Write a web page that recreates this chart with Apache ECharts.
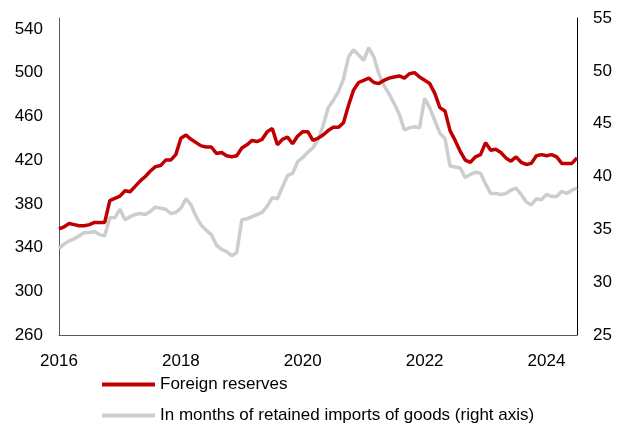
<!DOCTYPE html>
<html>
<head>
<meta charset="utf-8">
<script src="https://cdn.jsdelivr.net/npm/echarts@6/dist/echarts.min.js"></script>
<style>
html,body{margin:0;padding:0;background:#fff;}
#chart{width:624px;height:435px;}
</style>
</head>
<body>
<div id="chart"></div>
<script>
// Monthly, Jan 2016 .. Jul 2024 (index 0 = Jan 2016)
const startYear = 2016;
const yearTicks = ['2016', '2018', '2020', '2022', '2024'];
const foreignReserves = [
  357, 359, 362, 361, 360, 360, 361, 363, 363, 363,
  383, 385, 387, 392, 391, 396, 401, 405, 410, 414,
  415, 420, 420, 425, 440, 443, 439, 436, 433, 432,
  432, 426, 427, 424, 423, 424, 431, 434, 438, 437,
  439, 446, 449, 434, 439, 441, 435, 442, 446, 446,
  438, 440, 443, 447, 450, 450, 454, 470, 484, 491,
  493, 495, 491, 490, 493, 495, 496, 497, 495, 499,
  500, 496, 493, 490, 481, 468, 465, 447, 438, 428,
  420, 418, 423, 425, 436, 429, 430, 427, 422, 419,
  423, 418, 416, 417, 424, 425, 424, 425, 423, 417,
  417, 417, 422
];
const monthsOfImports = [
  33.2, 33.6, 33.9, 34.1, 34.4, 34.7, 34.7, 34.8, 34.5, 34.4,
  36.1, 36.1, 36.9, 35.9, 36.2, 36.4, 36.5, 36.4, 36.7, 37.1,
  37.0, 36.9, 36.5, 36.6, 37.0, 37.9, 37.3, 36.2, 35.4, 34.9,
  34.5, 33.5, 33.1, 32.9, 32.5, 32.8, 35.9, 36.0, 36.2, 36.4,
  36.6, 37.2, 38.0, 37.9, 39.0, 40.1, 40.3, 41.4, 41.8, 42.3,
  42.7, 43.5, 44.8, 46.5, 47.2, 48.0, 49.2, 51.3, 52.0, 51.5,
  51.0, 52.2, 51.3, 49.7, 48.6, 47.8, 46.9, 45.9, 44.4, 44.6,
  44.7, 44.6, 47.4, 46.5, 45.3, 44.1, 43.6, 41.0, 40.9, 40.8,
  39.9, 40.2, 40.4, 40.3, 39.3, 38.4, 38.4, 38.3, 38.4, 38.7,
  38.9, 38.3, 37.6, 37.3, 37.9, 37.8, 38.3, 38.1, 38.1, 38.6,
  38.4, 38.7, 38.9
];
const seriesNames = ['Foreign reserves', 'In months of retained imports of goods (right axis)'];

const redData = foreignReserves.map((v, i) => [i, v]);
const grayData = monthsOfImports.map((v, i) => [i, v]);

const font = 'Liberation Sans, Arial, sans-serif';
const chart = echarts.init(document.getElementById('chart'), null, {renderer: 'canvas'});
chart.setOption({
  animation: false,
  backgroundColor: '#ffffff',
  textStyle: {fontFamily: font},
  grid: {left: 59, right: 47, top: 18, bottom: 100, containLabel: false},
  legend: {
    orient: 'vertical',
    left: 97,
    top: 371,
    itemWidth: 53,
    itemHeight: 4,
    itemGap: 14,
    icon: 'rect',
    textStyle: {fontSize: 17, color: '#000', fontFamily: font},
    data: seriesNames
  },
  xAxis: {
    type: 'value',
    min: 0,
    max: foreignReserves.length - 1,
    interval: 24,
    axisLine: {show: true, lineStyle: {color: '#595959', width: 1}},
    axisTick: {show: false},
    splitLine: {show: false},
    axisLabel: {
      fontSize: 17, color: '#000', margin: 18, fontFamily: font,
      showMaxLabel: false,
      formatter: v => (v % 24 === 0 ? yearTicks[v / 24] : '')
    }
  },
  yAxis: [
    {
      type: 'value', min: 260, max: 550, interval: 40, position: 'left',
      axisLine: {show: true, lineStyle: {color: '#595959', width: 1}},
      axisTick: {show: false},
      splitLine: {show: false},
      axisLabel: {fontSize: 17, color: '#000', margin: 16, fontFamily: font, showMaxLabel: false}
    },
    {
      type: 'value', min: 25, max: 55, interval: 5, position: 'right',
      axisLine: {show: true, lineStyle: {color: '#000', width: 1}},
      axisTick: {show: false},
      splitLine: {show: false},
      axisLabel: {fontSize: 17, color: '#000', margin: 16, fontFamily: font}
    }
  ],
  series: [
    {
      name: seriesNames[1], type: 'line', yAxisIndex: 1, data: grayData,
      symbol: 'none', z: 2,
      itemStyle: {color: '#CDCDCD'},
      lineStyle: {color: '#CDCDCD', width: 3.5}
    },
    {
      name: seriesNames[0], type: 'line', yAxisIndex: 0, data: redData,
      symbol: 'none', z: 3,
      itemStyle: {color: '#C00000'},
      lineStyle: {color: '#C00000', width: 3.5}
    }
  ]
});
</script>
</body>
</html>
